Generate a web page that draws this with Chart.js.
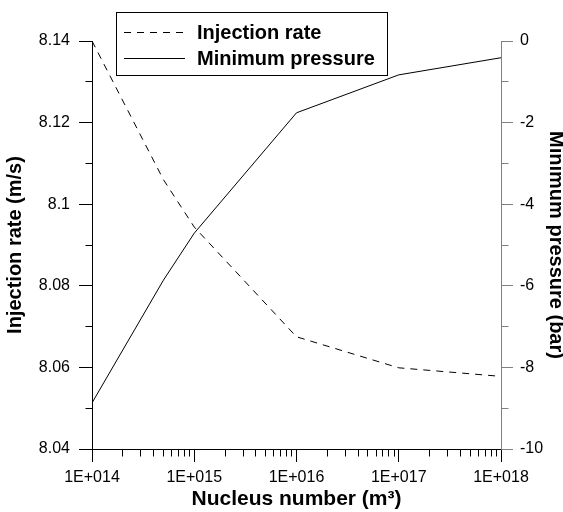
<!DOCTYPE html>
<html>
<head>
<meta charset="utf-8">
<script src="https://cdn.jsdelivr.net/npm/chart.js@4"></script>
<style>
  html, body { margin: 0; padding: 0; background: #fff; }
</style>
</head>
<body>
<canvas id="chart" width="563" height="512"></canvas>
<script>
// Nucleus number density (m^-3) and the two simulated responses
const nucleusNumbers   = [1e14, 5e14, 1e15, 1e16, 1e17, 1e18];
const injectionRate    = [8.140, 8.106, 8.0944, 8.0675, 8.0599, 8.0578];   // m/s
const minimumPressure  = [-8.87, -5.86, -4.71, -1.76, -0.83, -0.41];       // bar

// Axis ticks
const decadeTicks    = [1e14, 1e15, 1e16, 1e17, 1e18];
const decadeLabels   = ['1E+014', '1E+015', '1E+016', '1E+017', '1E+018'];
const rateTicks      = [8.04, 8.06, 8.08, 8.1, 8.12, 8.14];
const rateLabels     = ['8.04', '8.06', '8.08', '8.1', '8.12', '8.14'];
const rateMinor      = [8.05, 8.07, 8.09, 8.11, 8.13];
const pressureTicks  = [-10, -8, -6, -4, -2, 0];
const pressureLabels = ['-10', '-8', '-6', '-4', '-2', '0'];
const pressureMinor  = [-9, -7, -5, -3, -1];

const FONT = '"Liberation Sans", Arial, sans-serif';
const AXIS_GREY = '#808080';

const align = p => Math.round(p - 0.5) + 0.5;

// Short minor tick marks on all three axes plus the boxed key
const minorTicksAndKey = {
  id: 'minorTicksAndKey',
  afterDatasetsDraw(chart) {
    const { ctx, chartArea: a, scales } = chart;
    ctx.save();
    ctx.lineWidth = 1;

    ctx.strokeStyle = '#000';
    ctx.beginPath();
    for (let e = 14; e < 18; e++) {
      for (let k = 2; k <= 9; k++) {
        const px = align(scales.x.getPixelForValue(k * Math.pow(10, e)));
        ctx.moveTo(px, align(a.bottom));
        ctx.lineTo(px, align(a.bottom) + 7);
      }
    }
    rateMinor.forEach(v => {
      const py = align(scales.y.getPixelForValue(v));
      ctx.moveTo(align(a.left) - 7, py);
      ctx.lineTo(align(a.left), py);
    });
    ctx.stroke();

    ctx.strokeStyle = AXIS_GREY;
    ctx.beginPath();
    pressureMinor.forEach(v => {
      const py = align(scales.y1.getPixelForValue(v));
      ctx.moveTo(align(a.right), py);
      ctx.lineTo(align(a.right) + 7, py);
    });
    ctx.stroke();

    // key box
    const box = { x: 116.5, y: 12.5, w: 271, h: 63 };
    ctx.fillStyle = '#fff';
    ctx.fillRect(box.x, box.y, box.w, box.h);
    ctx.strokeStyle = '#000';
    ctx.strokeRect(box.x, box.y, box.w, box.h);

    const rows = [
      { ds: chart.data.datasets[0], lineY: 32.5, baseY: 38.5 },
      { ds: chart.data.datasets[1], lineY: 58.5, baseY: 65 }
    ];
    ctx.font = 'bold 20px ' + FONT;
    ctx.textBaseline = 'alphabetic';
    ctx.textAlign = 'left';
    rows.forEach(r => {
      ctx.strokeStyle = r.ds.borderColor;
      ctx.setLineDash(r.ds.borderDash || []);
      ctx.beginPath();
      ctx.moveTo(124, r.lineY);
      ctx.lineTo(185, r.lineY);
      ctx.stroke();
      ctx.setLineDash([]);
      ctx.fillStyle = '#000';
      ctx.fillText(r.ds.label, 197, r.baseY);
    });
    ctx.restore();
  }
};

const toPoints = ys => nucleusNumbers.map((x, i) => ({ x, y: ys[i] }));

new Chart(document.getElementById('chart'), {
  type: 'line',
  data: {
    datasets: [
      {
        label: 'Injection rate',
        data: toPoints(injectionRate),
        yAxisID: 'y',
        borderColor: '#000',
        borderWidth: 1,
        borderDash: [7, 6],
        pointRadius: 0,
        tension: 0,
        fill: false
      },
      {
        label: 'Minimum pressure',
        data: toPoints(minimumPressure),
        yAxisID: 'y1',
        borderColor: '#000',
        borderWidth: 1,
        pointRadius: 0,
        tension: 0,
        fill: false
      }
    ]
  },
  options: {
    responsive: false,
    devicePixelRatio: 1,
    animation: false,
    layout: { padding: { top: 41, right: 0, bottom: 0, left: 0 } },
    plugins: { legend: { display: false }, tooltip: { enabled: false } },
    scales: {
      x: {
        type: 'logarithmic',
        position: 'bottom',
        min: 1e14,
        max: 1e18,
        afterBuildTicks: s => { s.ticks = decadeTicks.map(v => ({ value: v })); },
        afterFit: s => { s.height = 63; },
        grid: { drawOnChartArea: false, tickLength: 13, tickColor: '#000', color: '#000' },
        border: { display: true, color: '#000', width: 1 },
        ticks: {
          autoSkip: false,
          maxRotation: 0,
          padding: 6,
          color: '#000',
          font: { family: FONT, size: 16 },
          callback: v => decadeLabels[decadeTicks.indexOf(v)]
        },
        title: {
          display: true,
          text: 'Nucleus number (m³)',
          color: '#000',
          font: { family: FONT, size: 21, weight: 'bold' },
          padding: { top: 0, bottom: 0 }
        }
      },
      y: {
        type: 'linear',
        position: 'left',
        min: 8.04,
        max: 8.14,
        afterBuildTicks: s => { s.ticks = rateTicks.map(v => ({ value: v })); },
        afterFit: s => { s.width = 92; },
        grid: { drawOnChartArea: false, tickLength: 13, tickColor: '#000', color: '#000' },
        border: { display: true, color: '#000', width: 1 },
        ticks: {
          padding: 9,
          color: '#000',
          font: { family: FONT, size: 16 },
          callback: v => rateLabels[rateTicks.indexOf(v)]
        },
        title: {
          display: true,
          text: 'Injection rate (m/s)',
          color: '#000',
          font: { family: FONT, size: 20, weight: 'bold' },
          padding: { top: 3.5, bottom: 0 }
        }
      },
      y1: {
        type: 'linear',
        position: 'right',
        min: -10,
        max: 0,
        afterBuildTicks: s => { s.ticks = pressureTicks.map(v => ({ value: v })); },
        afterFit: s => { s.width = 62; },
        grid: { drawOnChartArea: false, tickLength: 12, tickColor: AXIS_GREY, color: AXIS_GREY },
        border: { display: true, color: AXIS_GREY, width: 1 },
        ticks: {
          padding: 7,
          color: '#000',
          font: { family: FONT, size: 16 },
          callback: v => pressureLabels[pressureTicks.indexOf(v)]
        },
        title: {
          display: true,
          text: 'Minimum pressure (bar)',
          color: '#000',
          font: { family: FONT, size: 20, weight: 'bold' },
          padding: { top: -4.5, bottom: 0 }
        }
      }
    }
  },
  plugins: [minorTicksAndKey]
});
</script>
</body>
</html>
